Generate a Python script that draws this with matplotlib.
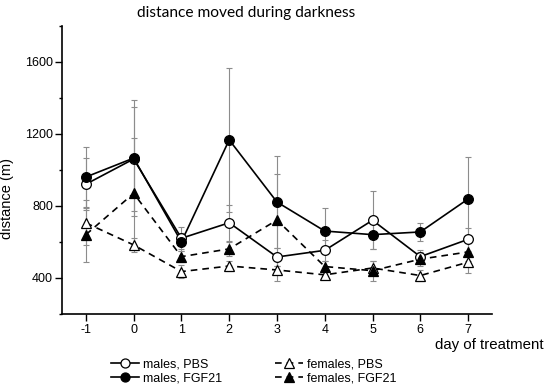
import matplotlib
matplotlib.use("Agg")
import matplotlib.pyplot as plt
from matplotlib.lines import Line2D
from matplotlib.ticker import MultipleLocator

days = [-1, 0, 1, 2, 3, 4, 5, 6, 7]
males_pbs = [920, 1060, 620, 706, 516, 553, 720, 518, 614]
males_pbs_err = [145, 290, 60, 100, 50, 60, 160, 37, 65]
males_fgf = [960, 1065, 600, 1166, 821, 660, 640, 655, 838]
males_fgf_err = [167, 320, 50, 400, 257, 130, 80, 50, 235]
fem_pbs = [705, 583, 435, 466, 444, 417, 455, 413, 487]
fem_pbs_err = [125, 40, 35, 30, 64, 25, 40, 30, 58]
fem_fgf = [640, 869, 518, 561, 721, 463, 440, 504, 544]
fem_fgf_err = [150, 305, 30, 40, 253, 30, 55, 40, 50]

plt.rcParams['font.family'] = ['Liberation Sans', 'DejaVu Sans']

fig = plt.figure(figsize=(5.5, 3.89), dpi=100)
ax = fig.add_axes([0.1127, 0.193, 0.7818, 0.741])

ecol = '#8c8c8c'
series = [
    (males_pbs, males_pbs_err, 'o', 'white', '-', 'males, PBS'),
    (males_fgf, males_fgf_err, 'o', 'black', '-', 'males, FGF21'),
    (fem_pbs, fem_pbs_err, '^', 'white', (0, (4, 3)), 'females, PBS'),
    (fem_fgf, fem_fgf_err, '^', 'black', (0, (4, 3)), 'females, FGF21'),
]
handles = []
for vals, err, mk, fc, ls, lab in series:
    ax.errorbar(days, vals, yerr=err, fmt='none', ecolor=ecol, elinewidth=0.8,
                capsize=2.5, capthick=0.8, zorder=1)
    ax.plot(days, vals, color='black', linestyle=ls, linewidth=1.2, zorder=2)
    ax.plot(days, vals, linestyle='none', marker=mk, markersize=7,
            markerfacecolor=fc, markeredgecolor='black', markeredgewidth=0.9, zorder=3)
    handles.append(Line2D([], [], color='black', linestyle=ls, linewidth=1.2, marker=mk,
                          markersize=6.5, markerfacecolor=fc, markeredgecolor='black',
                          markeredgewidth=0.9, label=lab))

ax.set_xlim(-1.5, 7.5)
ax.set_ylim(200, 1800)
ax.set_xticks(days)
ax.set_xticklabels([str(d) for d in days])
ax.set_yticks([400, 800, 1200, 1600])
ax.yaxis.set_minor_locator(MultipleLocator(200))
ax.tick_params(axis='both', which='major', direction='out', length=5, width=1.0, labelsize=9)
ax.tick_params(axis='y', which='major', pad=1.5)
ax.tick_params(axis='x', which='major', pad=2.5)
ax.tick_params(axis='y', which='minor', direction='out', length=2.5, width=1.0)
ax.spines['top'].set_visible(False)
ax.spines['right'].set_visible(False)
for s in ('left', 'bottom'):
    ax.spines[s].set_linewidth(1.2)

ax.set_ylabel('distance (m)', fontsize=10.5)
ax.yaxis.set_label_coords(-0.112, 0.40)
fig.text(0.447, 0.967, 'distance moved during darkness', ha='center', va='center',
         fontsize=11.2, family=['Lato', 'DejaVu Sans'])
fig.text(0.989, 0.113, 'day of treatment', ha='right', va='center', fontsize=10.8)

fig.legend(handles=handles, ncol=2, loc='center left', bbox_to_anchor=(0.201, 0.045),
           frameon=False, fontsize=9, handlelength=2.3, handletextpad=0.3,
           columnspacing=4.2, labelspacing=0.1, borderaxespad=0, borderpad=0)

fig.savefig('out.png', dpi=100)
